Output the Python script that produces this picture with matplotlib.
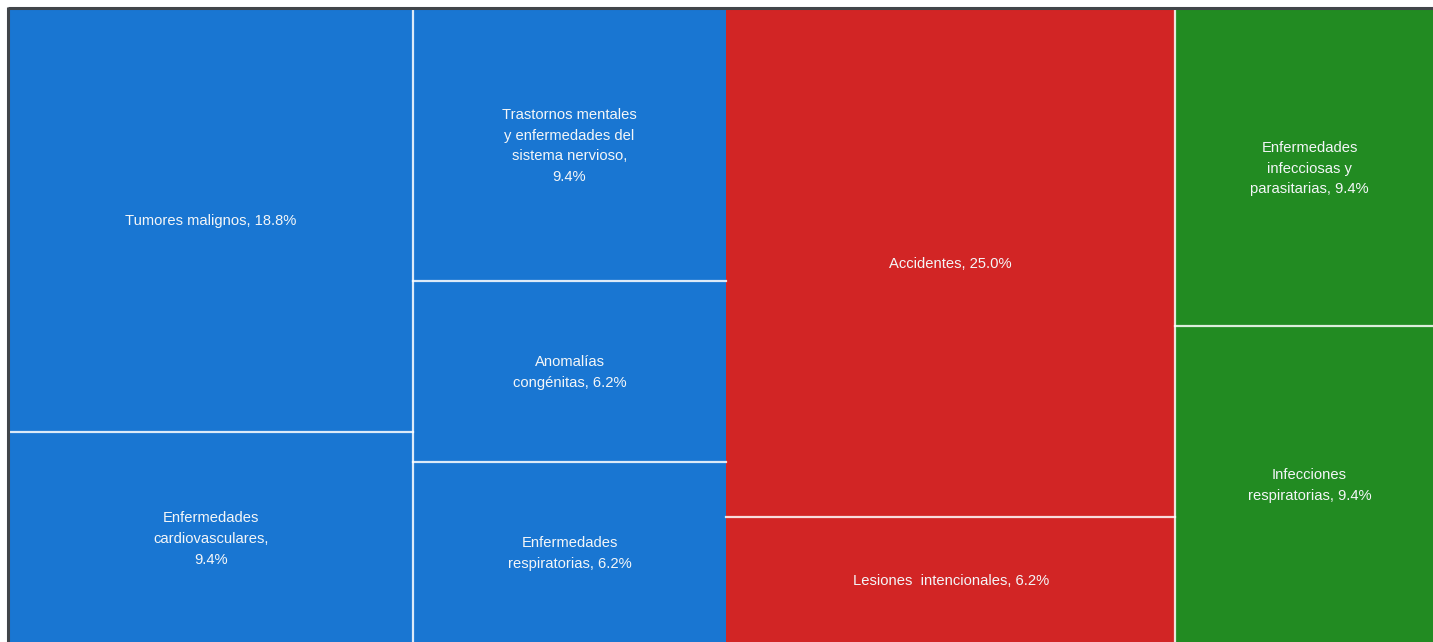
"""
Treemap de causas de muerte, agrupadas por tipo.
"""

import matplotlib
matplotlib.use('Agg')
import matplotlib.pyplot as plt
from matplotlib.patches import Rectangle

# columnas del treemap (de izquierda a derecha), cada una con sus celdas
col_names = [
    ['Tumores malignos, ', 'Enfermedades\ncardiovasculares,\n'],
    ['Trastornos mentales\ny enfermedades del\nsistema nervioso,\n',
     'Anomalías\ncongénitas, ', 'Enfermedades\nrespiratorias, '],
    ['Accidentes, ', 'Lesiones  intencionales, '],
    ['Enfermedades\ninfecciosas y\nparasitarias, ', 'Infecciones\nrespiratorias, '],
]
col_counts = [
    [6, 3],
    [3, 2, 2],
    [8, 2],
    [3, 3],
]
col_groups = ['no_trans', 'no_trans', 'lesiones', 'trans']
group_colors = {'no_trans': '#1976D2', 'lesiones': '#D22525', 'trans': '#228B22'}

total = sum(sum(c) for c in col_counts)

fig = plt.figure(figsize=(14.33, 6.42), dpi=100)
ax = fig.add_axes([0, 0, 1, 1])
ax.set_xlim(0, 1433)
ax.set_ylim(642, 0)
ax.axis('off')

# area del treemap (sobresale un poco por la derecha, como en la captura)
x0, y0 = 9, 9
W, H = 1435, 634.5

x = x0
for i, (names, counts) in enumerate(zip(col_names, col_counts)):
    csum = sum(counts)
    w = W * csum / total
    color = group_colors[col_groups[i]]
    y = y0
    for j, (name, n) in enumerate(zip(names, counts)):
        h = H * n / csum
        ax.add_patch(Rectangle((x, y), w, h, facecolor=color, edgecolor='none'))
        pct = 100 * n / total
        ax.text(x + w / 2, y + h / 2 + 1, f'{name}{pct:.1f}%', color='#F4F6F8',
                ha='center', va='center', fontsize=10.6, family='Liberation Sans',
                linespacing=1.62, multialignment='center')
        if j > 0:
            ax.plot([x, x + w], [y, y], color='white', lw=1.6, alpha=0.85)
        y += h
    # linea blanca entre columnas, salvo entre el bloque azul y el rojo
    if i > 0 and i != 2:
        ax.plot([x, x], [y0, y0 + H], color='white', lw=1.6, alpha=0.85)
    x += w

# marco oscuro arriba y a la izquierda
ax.plot([x0 - 1, 1433], [y0 - 1, y0 - 1], color='#414549', lw=2.2, solid_capstyle='butt')
ax.plot([x0 - 1, x0 - 1], [y0 - 2, 642], color='#414549', lw=2.2, solid_capstyle='butt')

fig.savefig('out.png', dpi=100)
